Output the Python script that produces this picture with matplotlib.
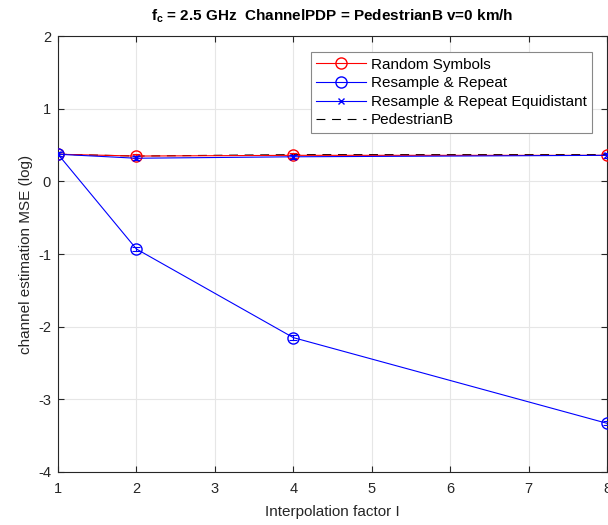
import matplotlib
matplotlib.use("Agg")
import matplotlib.pyplot as plt
from matplotlib.lines import Line2D

# interpolation factors and channel estimation MSE (log)
interp = [1, 2, 4, 8]
random_symbols = [0.375, 0.35, 0.36, 0.36]
resample_repeat = [0.375, -0.93, -2.15, -3.33]
resample_equidistant = [0.375, 0.32, 0.34, 0.36]
pedestrian_b = [0.375, 0.35, 0.37, 0.37]
err = [0.03, 0.03, 0.03, 0.03]

series_labels = ["Random Symbols", "Resample & Repeat",
                 "Resample & Repeat Equidistant", "PedestrianB"]

AX_GRAY = "#262626"

plt.rcParams.update({
    "font.family": ["Liberation Sans", "DejaVu Sans"],
    "font.size": 10,
    "mathtext.fontset": "custom",
    "mathtext.rm": "Liberation Sans",
    "mathtext.bf": "Liberation Sans:bold",
    "axes.unicode_minus": False,
    "axes.linewidth": 0.8,
})

fig = plt.figure(figsize=(6.08, 5.25), dpi=100)
ax = fig.add_axes([0.0954, 0.101, 0.903, 0.830])

common = dict(lw=0.8, capsize=2.7, elinewidth=0.8, capthick=0.8)
ax.errorbar(interp, random_symbols, yerr=err, color="red", marker="o", mfc="none",
            ms=8, zorder=3, **common)
ax.errorbar(interp, resample_repeat, yerr=err, color="blue", marker="o", mfc="none",
            ms=8, zorder=4, **common)
ax.errorbar(interp, resample_equidistant, yerr=err, color="blue", marker="x",
            ms=5, zorder=4, **common)
ax.plot(interp, pedestrian_b, color="black", ls=(0, (8, 6)), lw=0.8, zorder=2)

ax.set_xlim(1, 8)
ax.set_ylim(-4, 2)
ax.set_xticks(range(1, 9))
ax.set_yticks(range(-4, 3))
ax.grid(True, color="#e6e6e6", lw=0.8)
ax.set_axisbelow(True)
ax.tick_params(direction="in", top=True, right=True, length=4, width=0.8,
               colors=AX_GRAY, labelsize=10.5)
ax.tick_params(axis="x", pad=7)
ax.tick_params(axis="y", pad=5)
for s in ax.spines.values():
    s.set_color(AX_GRAY)

ax.set_xlabel("Interpolation factor I", fontsize=11, color=AX_GRAY, labelpad=7)
ax.set_ylabel("channel estimation MSE (log)", fontsize=11, color=AX_GRAY)
ax.set_title(r"$\mathbf{f_c}$ = 2.5 GHz  ChannelPDP = PedestrianB v=0 km/h",
             fontsize=11, fontweight="bold", pad=11)

handles = [
    Line2D([], [], color="red", marker="o", mfc="none", ms=8, lw=0.8),
    Line2D([], [], color="blue", marker="o", mfc="none", ms=8, lw=0.8),
    Line2D([], [], color="blue", marker="x", ms=5, lw=0.8),
    Line2D([], [], color="black", ls=(0, (8, 6)), lw=0.8),
]
leg = ax.legend(handles, series_labels, loc="upper right",
                bbox_to_anchor=(0.973, 0.963), fontsize=11,
                fancybox=False, framealpha=1, edgecolor="#888888",
                handlelength=3.3, borderpad=0.35, labelspacing=0.3,
                handletextpad=0.3, borderaxespad=0)
leg.get_frame().set_linewidth(0.8)

fig.savefig("out.png", dpi=100)
